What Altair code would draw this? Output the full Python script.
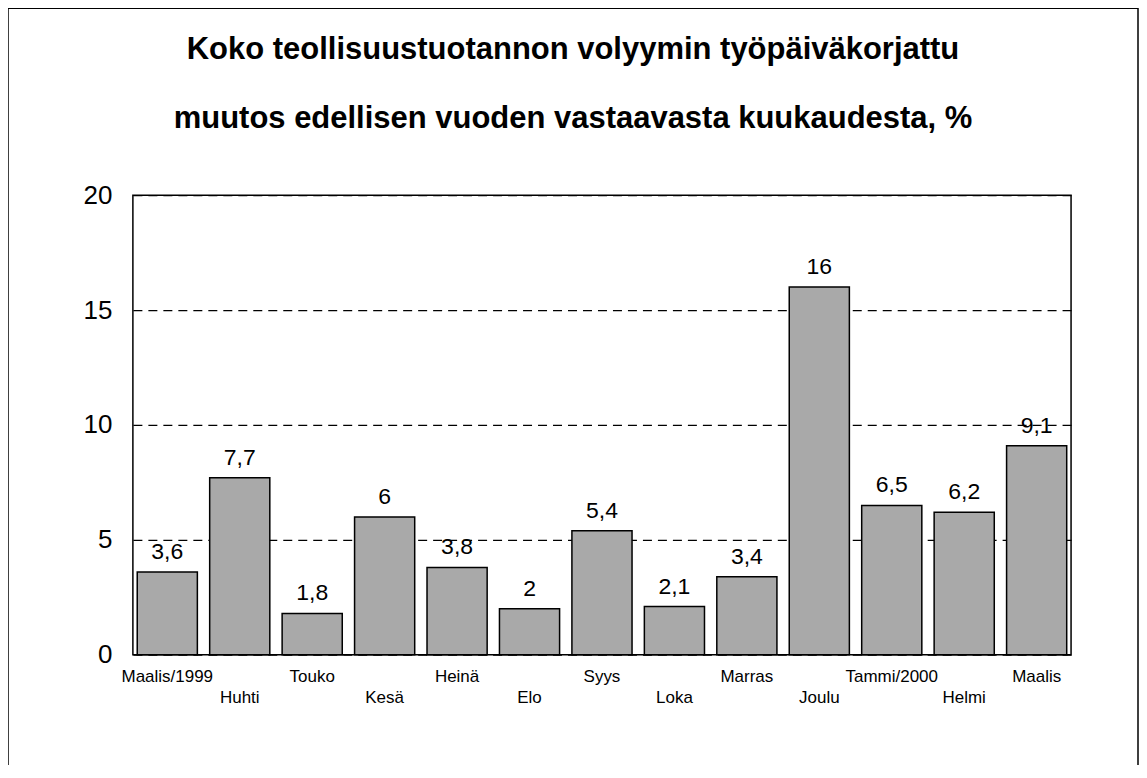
import altair as alt
import pandas as pd

months = ["Maalis/1999", "Huhti", "Touko", "Kesä", "Heinä", "Elo", "Syys",
          "Loka", "Marras", "Joulu", "Tammi/2000", "Helmi", "Maalis"]
values = [3.6, 7.7, 1.8, 6.0, 3.8, 2.0, 5.4, 2.1, 3.4, 16.0, 6.5, 6.2, 9.1]
y_ticks = [0, 5, 10, 15, 20]
title_lines = ["Koko teollisuustuotannon volyymin työpäiväkorjattu",
               "muutos edellisen vuoden vastaavasta kuukaudesta, %"]

df = pd.DataFrame({"kk": months, "muutos": values})
df["label"] = [f"{v:g}".replace(".", ",") for v in values]
lower_row = months[1::2]
lower_js = "[" + ",".join(f"'{m}'" for m in lower_row) + "]"

FONT = "Liberation Sans"

x = alt.X("kk:N", sort=months,
          scale=alt.Scale(paddingInner=0.17, paddingOuter=0.06),
          axis=alt.Axis(title=None, labelAngle=0, ticks=False, domain=False,
                        labelFontSize=17, labelFont=FONT, labelColor="black",
                        labelBaseline="top",
                        labelPadding={"condition": {"test": f"indexof({lower_js}, datum.value) >= 0", "value": 35},
                                      "value": 14}))
y = alt.Y("muutos:Q", scale=alt.Scale(domain=[0, 20], nice=False),
          axis=alt.Axis(title=None, values=y_ticks, ticks=False, domain=False,
                        labelFontSize=26, labelFont=FONT, labelColor="black",
                        labelPadding=21, grid=True, gridColor="black",
                        gridDash=[9, 6], gridWidth=1.2))

base = alt.Chart(df)
bars = base.mark_bar(color="#a9a9a9", stroke="black", strokeWidth=1.5).encode(x=x, y=y)
labels = base.mark_text(baseline="bottom", dy=-8, fontSize=23, font=FONT, color="black").encode(
    x=alt.X("kk:N", sort=months), y="muutos:Q", text="label:N")

frame = alt.Chart(pd.DataFrame({"f": [0]})).mark_rect(
    fill="transparent", stroke="black", strokeWidth=1.5).encode(
    x=alt.value(-125), x2=alt.value(1006), y=alt.value(-187), y2=alt.value(620))

chart = alt.layer(frame, bars, labels).properties(
    width=939, height=460,
    background="white",
    autosize=alt.AutoSizeParams(type="none"),
    padding={"left": 125, "top": 187, "right": 68, "bottom": 110},
    title=alt.TitleParams(text=title_lines, fontSize=31, font=FONT, fontWeight="bold",
                          lineHeight=70, anchor="middle", frame="bounds",
                          offset=-128, color="black"),
).configure_view(stroke="black", strokeWidth=1.5)

chart.save("out.html", embed_options={"renderer": "svg", "actions": False})
